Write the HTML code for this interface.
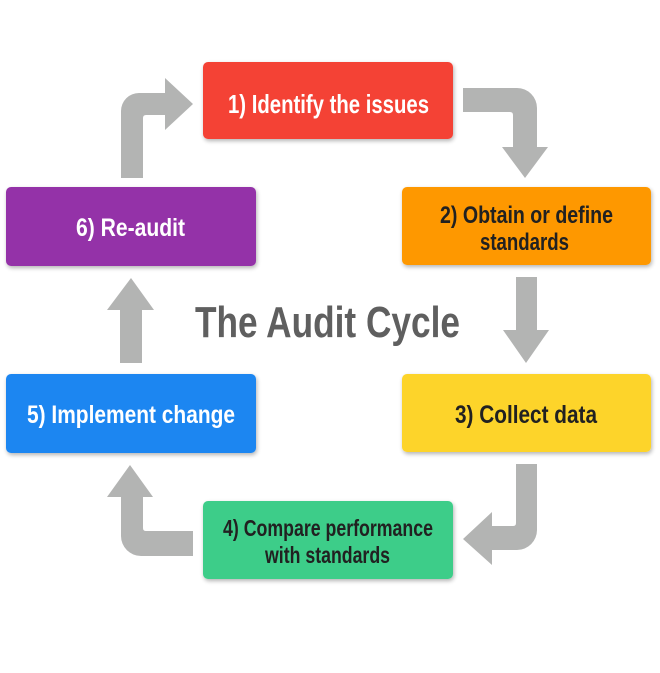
<!DOCTYPE html>
<html>
<head>
<meta charset="utf-8">
<style>
  html, body { margin: 0; padding: 0; background: #ffffff; }
  body { width: 660px; height: 673px; overflow: hidden; }
  svg { display: block; }
  text { font-family: "Liberation Sans", "DejaVu Sans", sans-serif; font-weight: bold; }
</style>
</head>
<body>
<svg width="660" height="673" viewBox="0 0 660 673" xmlns="http://www.w3.org/2000/svg">
  <defs>
    <filter id="sh" x="-10%" y="-20%" width="120%" height="150%">
      <feGaussianBlur in="SourceAlpha" stdDeviation="2"/>
      <feOffset dx="1" dy="2" result="b"/>
      <feComponentTransfer><feFuncA type="linear" slope="0.3"/></feComponentTransfer>
      <feMerge><feMergeNode/><feMergeNode in="SourceGraphic"/></feMerge>
    </filter>
  </defs>

  <rect width="660" height="673" fill="#ffffff"/>

  <!-- Arrows -->
  <g fill="#b3b4b3">
    <!-- 6 -> 1 -->
    <path d="M121,178 L121,111 A18,18 0 0 1 139,93 L165,93 L165,78 L193,104 L165,130 L165,115 L146,115 Q143,115 143,118 L143,178 Z"/>
    <!-- 1 -> 2 -->
    <path d="M463,88 L517,88 A20,20 0 0 1 537,108 L537,147 L548,147 L525,178 L502,147 L513,147 L513,115 Q513,112 510,112 L463,112 Z"/>
    <!-- 2 -> 3 -->
    <path d="M516,277 L537,277 L537,330 L549,330 L526,363 L503,330 L516,330 Z"/>
    <!-- 3 -> 4 -->
    <path d="M516,464 L537,464 L537,530 A20,20 0 0 1 517,550 L492,550 L492,565 L463,539 L492,512 L492,526 L513,526 Q516,526 516,523 Z"/>
    <!-- 4 -> 5 -->
    <path d="M193,531 L146,531 Q143,531 143,528 L143,497 L153,497 L130,465 L107,497 L121,497 L121,536 A20,20 0 0 0 141,556 L193,556 Z"/>
    <!-- 5 -> 6 -->
    <path d="M120,363 L120,310 L107,310 L131,278 L154,310 L142,310 L142,363 Z"/>
  </g>

  <!-- Boxes -->
  <g filter="url(#sh)">
    <rect x="203" y="62" width="250" height="77" rx="5" fill="#f44336"/>
    <rect x="402" y="187" width="249" height="78" rx="5" fill="#fe9800"/>
    <rect x="402" y="374" width="249" height="78" rx="5" fill="#fdd42a"/>
    <rect x="203" y="501" width="250" height="78" rx="5" fill="#3dcd89"/>
    <rect x="6" y="374" width="250" height="79" rx="5" fill="#1b86f1"/>
    <rect x="6" y="187" width="250" height="79" rx="5" fill="#9432a8"/>
  </g>

  <!-- Labels -->
  <text x="228" y="113" font-size="26" fill="#ffffff" textLength="201" lengthAdjust="spacingAndGlyphs">1) Identify the issues</text>

  <text x="440" y="223" font-size="24" fill="#212121" textLength="173" lengthAdjust="spacingAndGlyphs">2) Obtain or define</text>
  <text x="480" y="250" font-size="24" fill="#212121" textLength="89" lengthAdjust="spacingAndGlyphs">standards</text>

  <text x="455" y="423" font-size="25" fill="#212121" textLength="142" lengthAdjust="spacingAndGlyphs">3) Collect data</text>

  <text x="223" y="536" font-size="23" fill="#212121" textLength="210" lengthAdjust="spacingAndGlyphs">4) Compare performance</text>
  <text x="265" y="563" font-size="23" fill="#212121" textLength="125" lengthAdjust="spacingAndGlyphs">with standards</text>

  <text x="27" y="423" font-size="25" fill="#ffffff" textLength="208" lengthAdjust="spacingAndGlyphs">5) Implement change</text>

  <text x="76" y="236" font-size="25" fill="#ffffff" textLength="109" lengthAdjust="spacingAndGlyphs">6) Re-audit</text>

  <!-- Title -->
  <text x="195" y="337" font-size="44" fill="#5f5f5f" textLength="265" lengthAdjust="spacingAndGlyphs">The Audit Cycle</text>
</svg>
</body>
</html>
